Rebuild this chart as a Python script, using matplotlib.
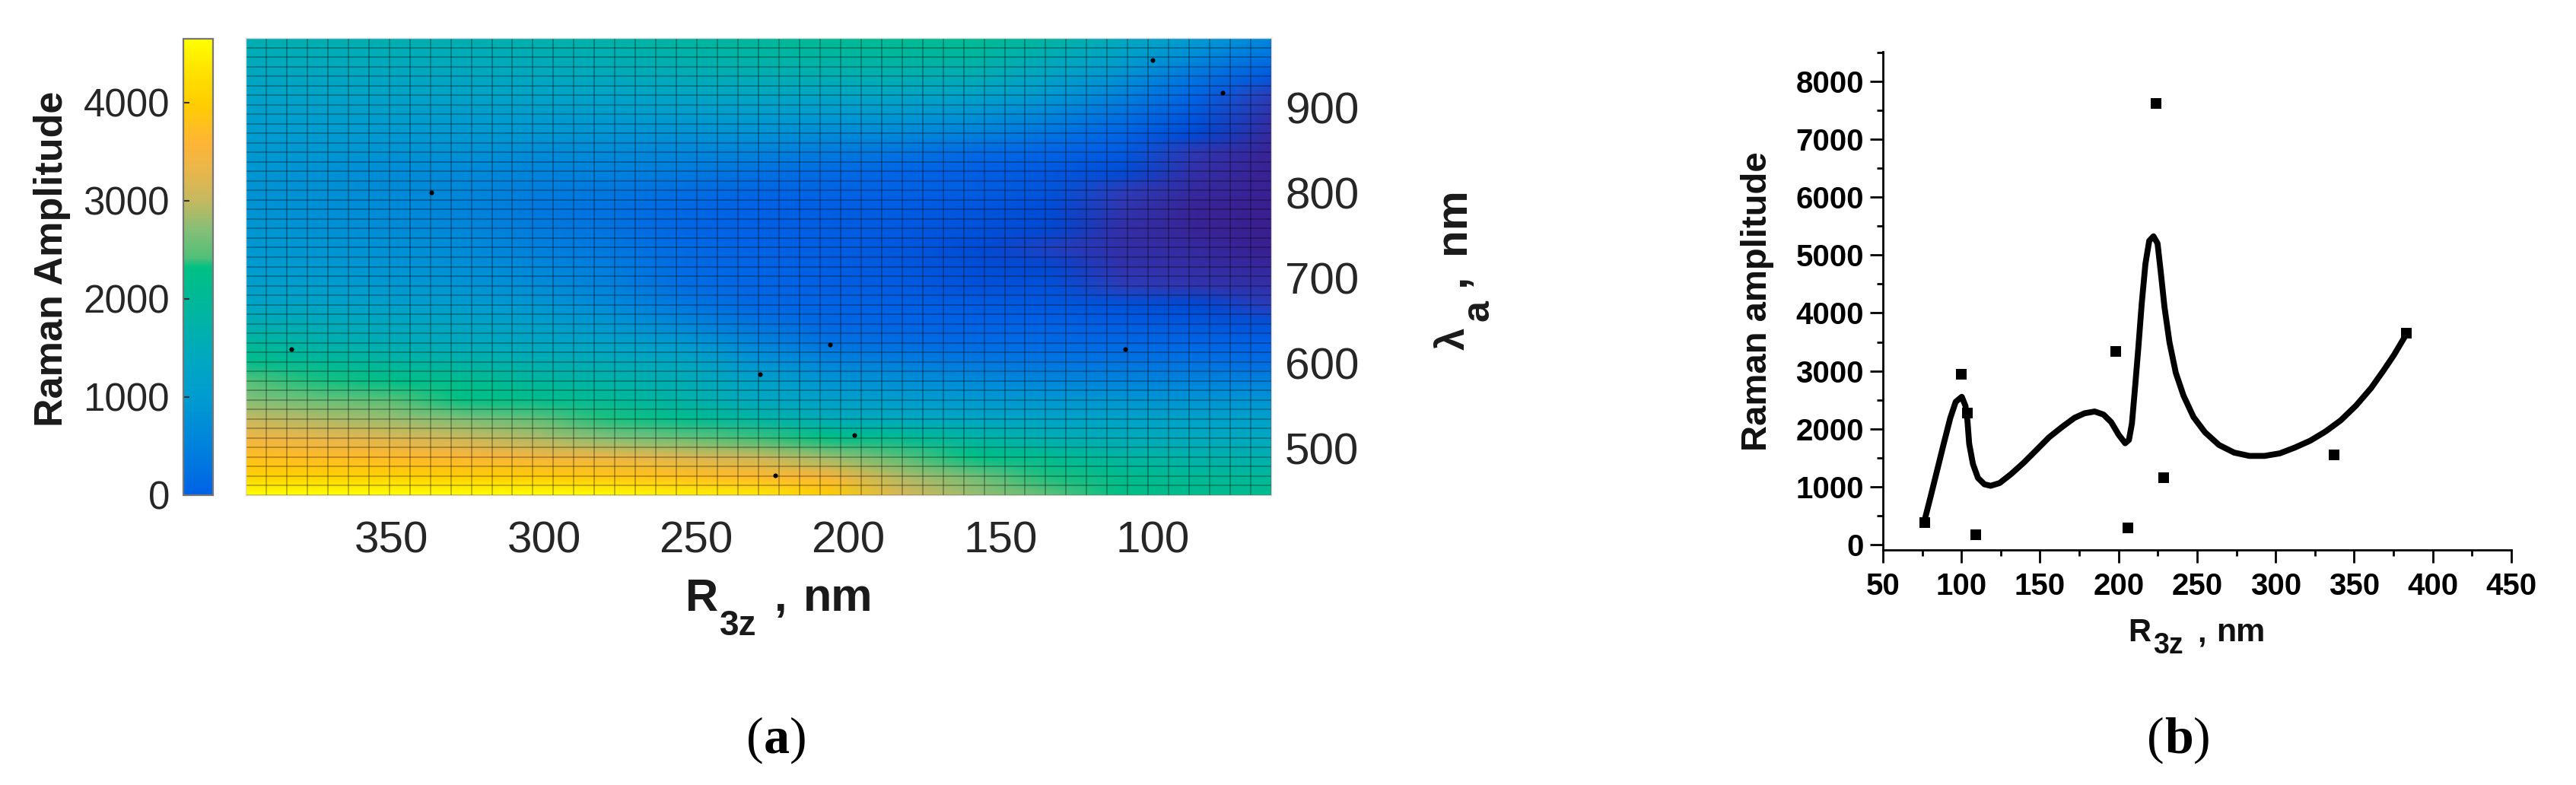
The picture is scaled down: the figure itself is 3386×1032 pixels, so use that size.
import numpy as np
import matplotlib
matplotlib.use('Agg')
import matplotlib.pyplot as plt
from matplotlib.colors import LinearSegmentedColormap

plt.rcParams['font.family'] = ['Liberation Sans', 'DejaVu Sans']

W, H = 3387, 1032

# panel a, values, top row is the longest wavelength
r3z_grid = [398, 374, 350, 326, 302, 278, 254, 230, 206, 182, 158, 134, 110, 86, 61]
lambda_grid = [982, 960, 937, 915, 893, 870, 848, 825, 803, 781, 758, 736, 714,
               691, 669, 646, 624, 602, 579, 557, 535, 512, 490, 467, 445]
amplitude = [
    [1650, 1650, 1650, 1650, 1700, 1750, 1850, 1950, 2050, 2100, 2100, 1850, 1450, 1000, 600],
    [1500, 1500, 1500, 1500, 1550, 1600, 1700, 1800, 1850, 1900, 1850, 1550, 1150, 650, 250],
    [1350, 1350, 1350, 1350, 1400, 1450, 1500, 1550, 1600, 1600, 1550, 1250, 800, 300, -150],
    [1250, 1250, 1250, 1250, 1250, 1250, 1300, 1350, 1300, 1300, 1200, 950, 500, 50, -500],
    [1100, 1100, 1100, 1050, 1050, 1050, 1050, 1050, 1000, 950, 850, 600, 250, -150, -700],
    [1000, 1000, 950, 950, 900, 850, 800, 800, 700, 650, 500, 300, 50, -400, -850],
    [950, 900, 850, 800, 700, 650, 600, 550, 400, 300, 150, 50, -100, -600, -950],
    [900, 800, 700, 650, 550, 500, 400, 250, 150, 50, -50, -150, -350, -750, -1000],
    [850, 780, 680, 600, 450, 350, 200, 80, 50, 0, -50, -200, -500, -850, -1000],
    [850, 750, 650, 550, 350, 250, 100, 0, -50, -100, -200, -350, -650, -950, -1050],
    [900, 800, 700, 600, 400, 280, 80, -20, -60, -120, -250, -400, -750, -950, -1050],
    [950, 880, 780, 680, 480, 350, 150, 0, -50, -150, -350, -450, -750, -850, -1050],
    [1000, 950, 850, 750, 600, 420, 150, 30, -70, -150, -320, -420, -700, -800, -900],
    [1150, 1050, 950, 850, 700, 500, 200, 70, -30, -100, -250, -250, -500, -650, -750],
    [1300, 1250, 1150, 1050, 900, 650, 350, 100, 30, -30, -100, -150, -250, -400, -500],
    [1600, 1500, 1400, 1300, 1150, 900, 600, 300, 100, 50, 0, 0, -80, -150, -250],
    [1950, 1700, 1550, 1450, 1350, 1200, 950, 550, 250, 180, 130, 120, 100, 60, -30],
    [2200, 2000, 1850, 1750, 1600, 1500, 1350, 850, 550, 450, 350, 300, 280, 250, 150],
    [2450, 2350, 2250, 2150, 1900, 1750, 1550, 1200, 850, 750, 650, 580, 550, 530, 500],
    [2700, 2550, 2450, 2320, 2200, 2000, 1750, 1400, 1150, 1050, 950, 900, 880, 850, 850],
    [3000, 2900, 2800, 2650, 2500, 2350, 2150, 1800, 1500, 1400, 1300, 1230, 1200, 1170, 1150],
    [3400, 3300, 3200, 3050, 2900, 2700, 2550, 2400, 2300, 2100, 1800, 1600, 1500, 1450, 1400],
    [3750, 3700, 3650, 3550, 3450, 3350, 3200, 3050, 2800, 2450, 2300, 2100, 1850, 1700, 1650],
    [4050, 4050, 4050, 4000, 3950, 3850, 3750, 3650, 3500, 2900, 2600, 2350, 2150, 2000, 1950],
    [4650, 4650, 4650, 4650, 4650, 4600, 4500, 4400, 4000, 3150, 2800, 2500, 2320, 2200, 2150],
]
dots_r3z = [383, 337, 229, 224, 206, 198, 109, 100, 77]
dots_lambda = [617, 801, 587, 468, 622, 516, 617, 956, 918]

# panel b
points_r3z = [76.6, 99.7, 103.9, 108.9, 198, 206, 224, 228.9, 337, 383]
points_amp = [385, 2947, 2272, 166, 3330, 284, 7620, 1160, 1546, 3652]
curve_r3z = [76.6, 80.7, 84.7, 88.7, 92.8, 96.3, 100.2, 102.5, 103.8, 104.9, 107.3, 110.5,
             114.6, 118.6, 124.3, 131.5, 139.6, 147.7, 155.7, 163.8, 171.9, 178.3, 184.8,
             190.4, 195.3, 200.1, 204.2, 206.6, 208.5, 210.6, 212.6, 214.7, 217.1, 219.5,
             222.2, 224.8, 226.8, 229.2, 232.4, 236.4, 241.3, 247.7, 255.0, 263.9, 273.6,
             283.3, 292.9, 302.6, 312.3, 322.0, 331.7, 341.4, 351.1, 360.8, 368.8, 375.3, 382.5]
curve_amp = [429, 867, 1305, 1743, 2180, 2465, 2553, 2399, 2137, 1743, 1392, 1151,
             1042, 1016, 1064, 1217, 1414, 1633, 1852, 2027, 2189, 2268, 2299,
             2246, 2115, 1896, 1751, 1808, 2093, 2750, 3407, 4151, 4852, 5246,
             5325, 5202, 4720, 4107, 3494, 2969, 2575, 2203, 1940, 1721, 1589,
             1532, 1532, 1576, 1677, 1795, 1953, 2146, 2400, 2706, 3013, 3275, 3604]

stops = [(-1050, '#3a1f8f'), (-600, '#2f38b4'), (-470, '#2b3fbc'), (-420, '#0048d2'),
         (0, '#0062e6'), (500, '#0082dc'), (1000, '#009cd0'), (1400, '#00a8c0'),
         (1800, '#00b4a4'), (2320, '#00c084'), (2420, '#50c078'), (2700, '#84bf78'),
         (3000, '#c4b860'), (3300, '#e8b64c'), (3600, '#ffb535'), (4000, '#ffce00'),
         (4300, '#ffe000'), (4650, '#ffff00')]
vmin, vmax = stops[0][0], stops[-1][0]
cmap = LinearSegmentedColormap.from_list(
    'raman', [((v - vmin) / (vmax - vmin), c) for v, c in stops], N=512)


def axes_px(left, top, right, bottom):
    return fig.add_axes([left / W, 1 - bottom / H, (right - left) / W, (bottom - top) / H])


def text_px(x, y, s, **kw):
    return fig.text(x / W, 1 - y / H, s, **kw)


def label_part(x, y, s, size, color='#1a1a1a', **kw):
    # one piece of a label, x and y are the left end of its baseline
    return text_px(x, y, s, ha='left', va='baseline', fontsize=size, fontweight='bold',
                   color=color, **kw)


def vlabel_part(x, y, s, size):
    return text_px(x, y, s, ha='left', va='baseline', rotation=90, rotation_mode='anchor',
                   fontsize=size, fontweight='bold', color='#1a1a1a')


fig = plt.figure(figsize=(W / 100, H / 100), dpi=100)

# heat map
ax = axes_px(323, 50, 1671, 651)
mesh = ax.pcolormesh(r3z_grid, lambda_grid, amplitude, cmap=cmap, vmin=vmin, vmax=vmax,
                     shading='gouraud', rasterized=True)
ax.vlines(np.linspace(398, 61, 51), 445, 982, color='k', alpha=0.34, lw=1.1)
ax.hlines(np.linspace(445, 982, 49), 398, 61, color='k', alpha=0.34, lw=1.1)
ax.plot(dots_r3z, dots_lambda, 'o', color='k', ms=4.4, mew=0)
ax.set_xlim(398, 61)
ax.set_ylim(445, 982)
ax.set_xticks([350, 300, 250, 200, 150, 100])
ax.set_yticks([500, 600, 700, 800, 900])
ax.yaxis.tick_right()
ax.tick_params(axis='both', length=0, labelsize=42, labelcolor='#262626')
ax.tick_params(axis='x', pad=24)
ax.tick_params(axis='y', pad=13)
for s in ax.spines.values():
    s.set_color('#d8d8d8')
    s.set_linewidth(1)

# colour bar
cax = axes_px(241, 51, 280, 651)
cb = fig.colorbar(mesh, cax=cax)
cax.set_ylim(0, 4650)
cb.set_ticks([0, 1000, 2000, 3000, 4000])
cax.yaxis.set_ticks_position('left')
cax.tick_params(axis='y', direction='in', length=6, width=1.5, labelsize=36.7,
                labelcolor='#262626', color='#333333', pad=13)
cb.outline.set_edgecolor('#777777')
cb.outline.set_linewidth(1.6)

text_px(69, 340, 'Raman Amplitude', rotation=90, ha='center', va='center',
        fontsize=37.5, fontweight='bold', color='#1a1a1a')

label_part(901, 803, 'R', 43)
label_part(946, 835, '3z', 33)
label_part(1018, 803, ',', 43)
label_part(1056, 803, 'nm', 44)

vlabel_part(1925, 460, '\u03bb', 38)
vlabel_part(1957, 422, 'a', 36)
vlabel_part(1925, 376, ',', 42)
vlabel_part(1925, 334, 'nm', 42)

# line plot
bx = axes_px(2475, 68, 3301, 723)
bx.plot(curve_r3z, curve_amp, color='k', lw=5.6, solid_joinstyle='round', solid_capstyle='butt')
bx.plot(points_r3z, points_amp, 's', color='k', ms=10, mew=0)
bx.set_xlim(50, 450)
bx.set_ylim(-92, 8512)
bx.set_xticks(range(50, 451, 50))
bx.set_xticks(range(75, 450, 50), minor=True)
bx.set_yticks(range(0, 8001, 1000))
bx.set_yticks(range(500, 8501, 1000), minor=True)
bx.tick_params(which='major', length=12, width=2, labelsize=29)
bx.tick_params(which='minor', length=6, width=2)
bx.tick_params(axis='x', pad=9)
bx.tick_params(axis='y', pad=6)
for lab in bx.get_xticklabels() + bx.get_yticklabels():
    lab.set_fontweight('bold')
bx.spines[['top', 'right']].set_visible(False)
bx.spines[['left', 'bottom']].set_linewidth(2)

text_px(2310, 396, 'Raman amplitude', rotation=90, ha='center', va='center',
        fontsize=34, fontweight='bold', color='#111111')
label_part(2797, 843, 'R', 30, color='#111111')
label_part(2830, 859, '3z', 27, color='#111111')
label_part(2888, 843, ',', 30, color='#111111')
label_part(2913, 843, 'nm', 31, color='#111111')

# panel letters
for cx, letter, half in [(1021, 'a', 17), (2864, 'b', 19)]:
    text_px(cx, 990, letter, ha='center', va='baseline', fontsize=49,
            family='Liberation Serif', fontweight='bold')
    text_px(cx - half, 990, '(', ha='right', va='baseline', fontsize=49, family='Liberation Serif')
    text_px(cx + half, 990, ')', ha='left', va='baseline', fontsize=49, family='Liberation Serif')

plt.savefig('out.png', dpi=100)
